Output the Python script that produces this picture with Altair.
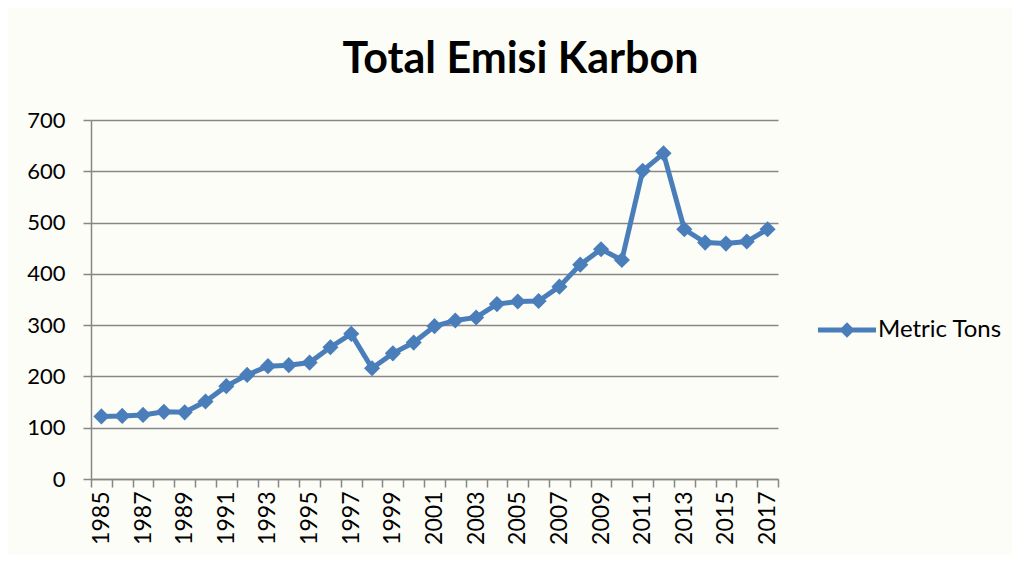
import altair as alt
import pandas as pd

years = list(range(1985, 2018))
values = [122, 123, 125, 131, 130, 151, 181, 203, 220, 222, 227, 257, 283, 216,
          245, 266, 298, 309, 315, 341, 346, 347, 375, 418, 448, 427, 601, 635,
          487, 461, 459, 463, 487]
series_name = "Metric Tons"

df = pd.DataFrame({"Year": years, "Value": values, "Series": [series_name] * len(years)})

FONT = "Lato"
BLUE = "#4a7ebb"
GRID = "#878787"

legend_symbol = ("M -1 -0.09 L 1 -0.09 L 1 0.09 L -1 0.09 Z "
                 "M 0 -0.27 L 0.27 0 L 0 0.27 L -0.27 0 Z")

x_enc = alt.X(
    "Year:O",
    bandPosition=0.5,
    scale=alt.Scale(type="band", paddingInner=0, paddingOuter=0),
    axis=alt.Axis(
        title=None,
        labelAngle=-90,
        labelExpr="(datum.value - 1985) % 2 == 0 ? datum.label : ''",
        tickBand="extent",
        tickSize=8,
        labelPadding=4,
        labelFontSize=23,
        grid=False,
    ),
)
y_enc = alt.Y(
    "Value:Q",
    scale=alt.Scale(domain=[0, 700], nice=False),
    axis=alt.Axis(title=None, values=[0, 100, 200, 300, 400, 500, 600, 700],
                  tickSize=8, labelPadding=18, grid=True),
)
color_enc = alt.Color(
    "Series:N",
    scale=alt.Scale(range=[BLUE]),
    legend=alt.Legend(
        title=None, orient="none", legendX=727, legendY=181,
        symbolType=legend_symbol, symbolSize=3364, symbolStrokeWidth=0,
        symbolFillColor=BLUE, labelFontSize=24, labelFont=FONT,
        labelColor="#000000", labelOffset=2,
    ),
)

line = alt.Chart(df).mark_line(strokeWidth=5).encode(x=x_enc, y=y_enc, color=color_enc)
pts = alt.Chart(df).mark_point(shape="diamond", filled=True, size=260, opacity=1).encode(
    x=x_enc, y=y_enc, color=alt.Color("Series:N", scale=alt.Scale(range=[BLUE]), legend=None)
)

chart = alt.layer(line, pts).properties(
    width=687,
    height=359,
    autosize=alt.AutoSizeParams(type="none"),
    padding={"left": 83, "top": 112, "right": 234, "bottom": 76},
    background="#fcfdf7",
    title=alt.TitleParams(
        "Total Emisi Karbon", font=FONT, fontSize=43, fontWeight="bold",
        color="#000000", anchor="middle", dx=86, offset=27,
    ),
).configure_view(stroke=None).configure_axis(
    labelFont=FONT, labelFontSize=22, labelColor="#000000",
    domainColor=GRID, domainWidth=1.5, tickColor=GRID, tickWidth=1.5,
    gridColor=GRID, gridWidth=1.5, gridOpacity=1,
)

chart.save("out.html", embed_options={"renderer": "svg", "actions": False})
